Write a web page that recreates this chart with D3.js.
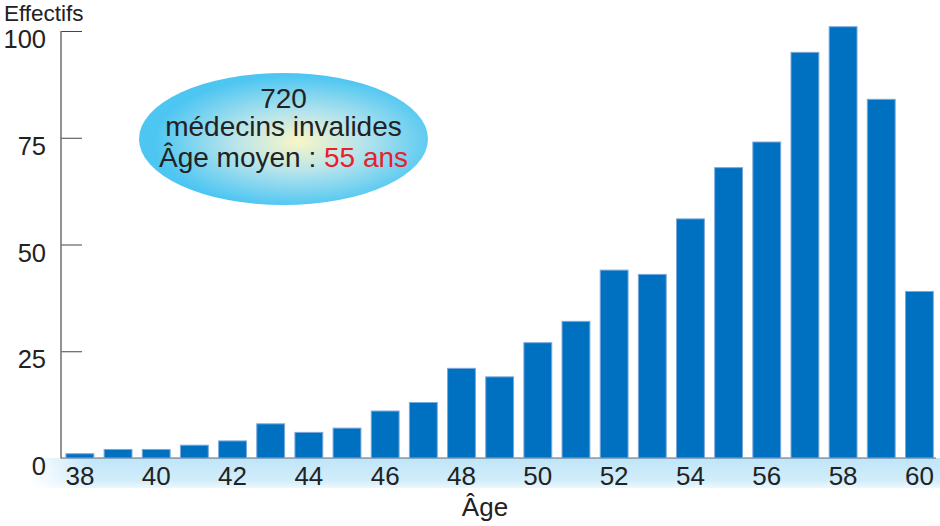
<!DOCTYPE html>
<html><head><meta charset="utf-8">
<script src="https://cdn.jsdelivr.net/npm/d3@7"></script>
<style>body{margin:0;background:#fff}svg{display:block}text{font-family:"Liberation Sans",Arial,sans-serif}</style>
</head><body>
<svg id="c" width="940" height="526"></svg>
<script>
const ages = [38,39,40,41,42,43,44,45,46,47,48,49,50,51,52,53,54,55,56,57,58,59,60];
const effectifs = [1,2,2,3,4,8,6,7,11,13,21,19,27,32,44,43,56,68,74,95,101,84,39];
const yTicks = [0,25,50,75,100];
const xTickLabels = [38,40,42,44,46,48,50,52,54,56,58,60];
const yTitle = "Effectifs";
const xTitle = "Âge";
const noteLines = ["720","médecins invalides"];
const noteLast = ["Âge moyen : ","55 ans"];

const svg = d3.select("#c");
const x0 = 61, x1 = 938.3, yTop = 31, yBase = 458;
const x = d3.scaleBand().domain(ages).range([x0, x1]).paddingInner(0.27).paddingOuter(0.13);
const y = d3.scaleLinear().domain([0,100]).range([yBase, yTop]);

const defs = svg.append("defs");
const hg = defs.append("linearGradient").attr("id","bandH").attr("x1","0").attr("x2","1").attr("y1","0").attr("y2","0");
hg.append("stop").attr("offset","0").attr("stop-color","#fff").attr("stop-opacity",0);
hg.append("stop").attr("offset","0.07").attr("stop-color","#fff").attr("stop-opacity",1);
hg.append("stop").attr("offset","1").attr("stop-color","#fff").attr("stop-opacity",1);
const vg = defs.append("linearGradient").attr("id","bandV").attr("x1","0").attr("x2","0").attr("y1","0").attr("y2","1");
vg.append("stop").attr("offset","0").attr("stop-color","#bfe5f8");
vg.append("stop").attr("offset","0.75").attr("stop-color","#d2edfa");
vg.append("stop").attr("offset","1").attr("stop-color","#eef8fd");
const mask = defs.append("mask").attr("id","bandMask");
mask.append("rect").attr("x",28).attr("y",458).attr("width",912).attr("height",30).attr("fill","url(#bandH)");
const rg = defs.append("radialGradient").attr("id","ell").attr("cx","0.55").attr("cy","0.52").attr("r","0.5");
rg.append("stop").attr("offset","0").attr("stop-color","#f9f6c6");
rg.append("stop").attr("offset","0.45").attr("stop-color","#b6e4ec");
rg.append("stop").attr("offset","1").attr("stop-color","#4dc6f2");

// bottom band
svg.append("rect").attr("x",28).attr("y",458).attr("width",912).attr("height",30)
  .attr("fill","url(#bandV)").attr("mask","url(#bandMask)");

// baseline
svg.append("line").attr("x1",x0).attr("x2",936).attr("y1",yBase).attr("y2",yBase)
  .attr("stroke","#666").attr("stroke-width",1.2);

// y axis
const yAxis = d3.axisRight(y).tickValues(yTicks).tickSize(21).tickFormat("");
const ga = svg.append("g").attr("transform",`translate(${x0},0)`).call(yAxis);
ga.select(".domain").remove();
ga.selectAll(".tick line").attr("stroke","#444").attr("stroke-width",1);
ga.selectAll(".tick").filter(d=>d===0).remove();
svg.append("line").attr("x1",x0).attr("x2",x0).attr("y1",yTop).attr("y2",yBase+0.6)
  .attr("stroke","#777").attr("stroke-width",1.6);

svg.append("g").selectAll("text").data(yTicks).join("text")
  .attr("x",46).attr("y",d=>y(d)+17).attr("text-anchor","end")
  .attr("font-size",25.5).attr("fill","#222").text(d=>d);

// bars
svg.append("g").selectAll("rect").data(ages).join("rect")
  .attr("x",(d)=>x(d)).attr("width",x.bandwidth())
  .attr("y",(d,i)=>y(effectifs[i])).attr("height",(d,i)=>yBase-y(effectifs[i]))
  .attr("fill","#0070c0").attr("stroke","#7ba8dc").attr("stroke-width",1);

// x labels
svg.append("g").selectAll("text").data(xTickLabels).join("text")
  .attr("x",d=>x(d)+x.bandwidth()/2).attr("y",485).attr("text-anchor","middle")
  .attr("font-size",26).attr("fill","#222").text(d=>d);

svg.append("text").attr("x",485).attr("y",516).attr("text-anchor","middle")
  .attr("font-size",26).attr("fill","#222").text(xTitle);
svg.append("text").attr("x",4).attr("y",20.5).attr("font-size",22.5).attr("fill","#222").text(yTitle);

// ellipse annotation
svg.append("ellipse").attr("cx",283.5).attr("cy",139).attr("rx",144.5).attr("ry",66).attr("fill","url(#ell)");
svg.append("g").selectAll("text").data(noteLines).join("text")
  .attr("x",283.5).attr("y",(d,i)=>108+i*28).attr("text-anchor","middle")
  .attr("font-size",28).attr("fill","#222").text(d=>d);
const t3 = svg.append("text").attr("x",283.5).attr("y",167).attr("text-anchor","middle").attr("font-size",28).attr("fill","#222");
t3.append("tspan").text(noteLast[0]);
t3.append("tspan").attr("fill","#e8202a").text(noteLast[1]);
</script>
</body></html>
